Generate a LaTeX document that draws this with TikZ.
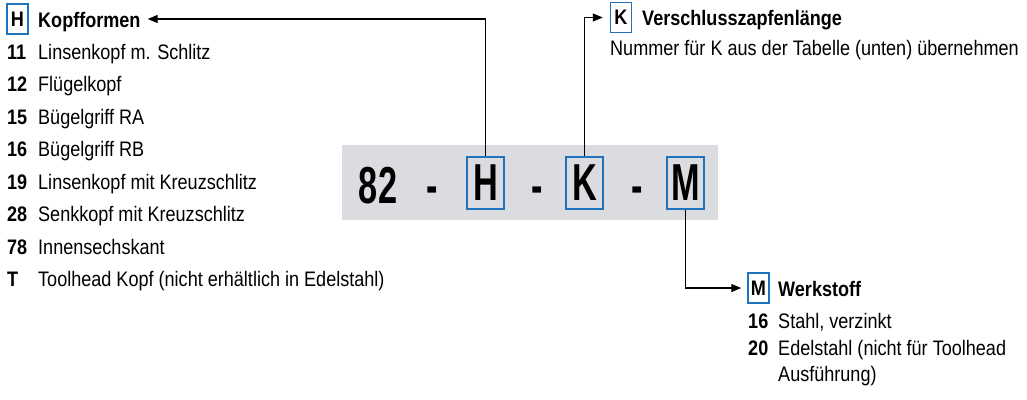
\documentclass[tikz,border=0pt]{standalone}
\usepackage{fontspec}
\setmainfont{Liberation Sans}[FakeStretch=0.86]
\newfontfamily\codefont{Liberation Sans}[FakeStretch=0.66]
\usetikzlibrary{arrows.meta,calc}

\definecolor{codeblue}{RGB}{32,114,188}
\definecolor{codegray}{RGB}{218,220,224}
\newcommand\bodyfont{\fontsize{21}{25}\selectfont}
\newcommand\bigfont{\codefont\fontsize{52}{52}\selectfont\bfseries}

\tikzset{
    letterbox/.style={draw=codeblue, line width=1.5pt, minimum width=21pt, minimum height=30pt, inner sep=0pt, font=\bodyfont\bfseries},
    codebox/.style={draw=codeblue, line width=2pt, minimum width=37pt, minimum height=52pt, inner sep=0pt, font=\bigfont},
    item/.style={anchor=base west, inner sep=0pt, font=\bodyfont},
    num/.style={item, font=\bodyfont\bfseries},
    pointer/.style={-{Triangle[length=10pt,width=8pt]}, line width=1.2pt}
}

\begin{document}
\begin{tikzpicture}[x=1pt,y=-1pt]
    \useasboundingbox (0,0) rectangle (1027,399);

    % Code line
    \fill[codegray] (342,145) rectangle (718,220);
    \node[font=\bigfont] (m82) at (378,186) {82};
    \node[font=\bigfont] (d1) at (432,195) {-};
    \node[codebox] (mH) at (485.5,183) {H};
    \node[font=\bigfont] (d2) at (537,195) {-};
    \node[codebox] (mK) at (584.5,183) {K};
    \node[font=\bigfont] (d3) at (637,195) {-};
    \node[codebox] (mM) at (685.5,183) {M};

    % Kopfformen (left)
    \node[letterbox] (lH) at (17.5,19) {H};
    \node[num] (tH) at (38,27.5) {Kopfformen};
    \foreach \n/\t [count=\i from 0] in {11/Linsenkopf m. Schlitz, 12/Flügelkopf, 15/Bügelgriff RA, 16/Bügelgriff RB, 19/Linsenkopf mit Kreuzschlitz, 28/Senkkopf mit Kreuzschlitz, 78/Innensechskant, T/Toolhead Kopf (nicht erhältlich in Edelstahl)}{
        \node[num] (n\i) at (7,59+32.5*\i) {\n};
        \node[item] (t\i) at (38,59+32.5*\i) {\t};
    }

    % Verschlusszapfenlaenge (top right)
    \node[letterbox] (lK) at (621,17.5) {K};
    \node[num] (tK) at (642,25.5) {Verschlusszapfenlänge};
    \node[item] (sK) at (610,55) {Nummer für K aus der Tabelle (unten) übernehmen};

    % Werkstoff (bottom right)
    \node[letterbox] (lM) at (758.5,288) {M};
    \node[num] (tM) at (778,296) {Werkstoff};
    \node[num] (n16) at (748,328) {16};
    \node[item] (t16) at (778,328) {Stahl, verzinkt};
    \node[num] (n20) at (748,355) {20};
    \node[item] (t20) at (778,355) {Edelstahl (nicht für Toolhead};
    \node[item] (t20b) at (778,381) {Ausführung)};

    % Connectors
    \draw[pointer] (mH.north) |- ($(tH.east |- lH.east)+(7,0)$);
    \draw[pointer] (mK.north) |- ($(lK.west)+(-7,0)$);
    \draw[pointer] (mM.south) |- ($(lM.west)+(-6,0)$);
\end{tikzpicture}
\end{document}
